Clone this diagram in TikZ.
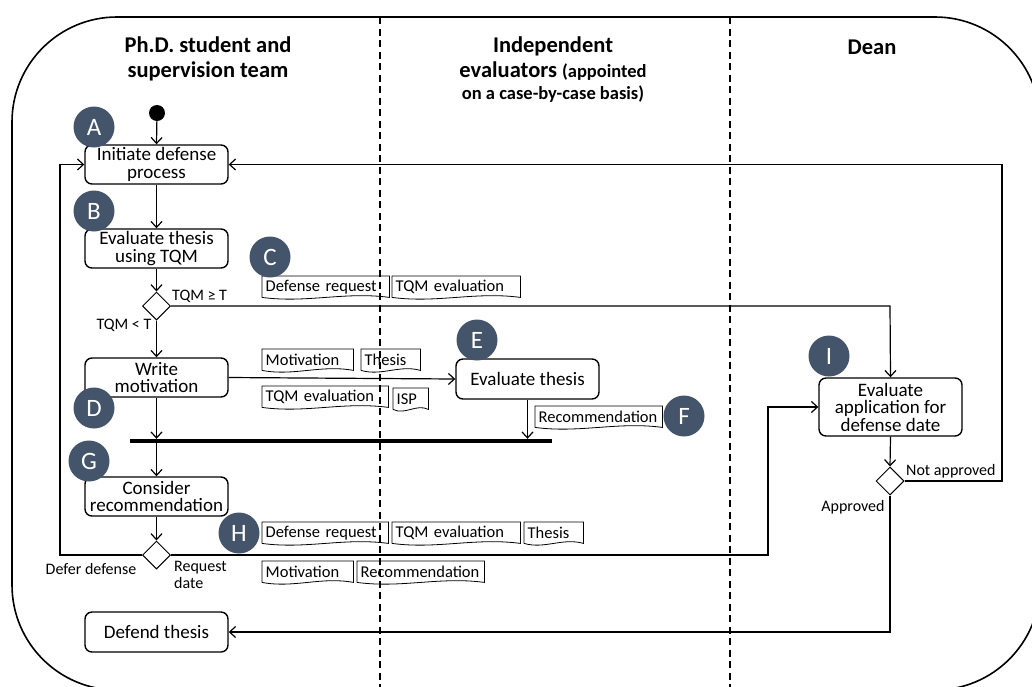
\documentclass[tikz,border=0pt]{standalone}
\usepackage{fontspec}
\setmainfont{Carlito}
\usetikzlibrary{shapes.geometric,calc,arrows.meta}
\definecolor{badgecol}{HTML}{44546A}
\newcommand\docoutline[1]{%
  \draw[docline] (#1.south west) -- (#1.north west) -- (#1.north east) -- (#1.south east)
    .. controls ($(#1.south east)!0.35!(#1.south west)+(0,-6)$) and ($(#1.south east)!0.65!(#1.south west)+(0,6)$) .. (#1.south west);
  \draw[line width=1.1pt] ($(#1.north east)+(0.5,0)$) -- ($(#1.south east)+(0.5,0)$);}
\tikzset{
  act/.style={draw, rounded corners=7pt, line width=1.4pt, minimum width=143pt, minimum height=39pt,
    align=center, inner sep=0pt, font=\fontsize{19}{17.5}\selectfont, fill=white},
  dec/.style={draw, diamond, aspect=1, minimum width=28pt, minimum height=28pt, inner sep=0pt, line width=1pt, fill=white},
  arr/.style={line width=1.2pt, -{Straight Barb[length=6pt,width=11pt,line width=1.2pt]}},
  docline/.style={line width=0.8pt},
  doctext/.style={anchor=north west, inner xsep=3.5pt, inner ysep=0pt, minimum height=21pt, align=left,
    font=\fontsize{16.5}{17}\selectfont},
  badge/.style={circle, fill=badgecol, text=white, minimum size=41pt, inner sep=0pt, font=\fontsize{25}{25}\selectfont},
  lbl/.style={font=\fontsize{16}{17}\selectfont, inner sep=0pt},
  lane/.style={line width=2.2pt, dash pattern=on 7pt off 4.5pt},
  head/.style={font=\fontsize{22.5}{25}\selectfont\bfseries, align=center, inner sep=0pt}
}
\begin{document}
\begin{tikzpicture}[x=1pt,y=-1pt]
\useasboundingbox (0,0) rectangle (1032,686);
\clip (0,0) rectangle (1032,686);
% frame and lanes
\draw[line width=1.6pt, rounded corners=105pt] (12,17) rectangle (1040,690);
\draw[lane] (380,17) -- (380,690);
\draw[lane] (730,17) -- (730,690);
% headers
\node[head] (h1) at (208,59) {Ph.D. student and\\supervision team};
\node[head] (h2) at (553,46) {Independent};
\node[head] (h3) at (553,71) {evaluators {\fontsize{18.5}{20}\selectfont(appointed}};
\node[head, font=\fontsize{18.5}{20}\selectfont\bfseries] (h4) at (553,94) {on a case-by-case basis)};
\node[head] (h5) at (872,47) {Dean};
% start
\node[circle, fill=black, minimum size=16pt, inner sep=0pt] (start) at (157,113) {};
% activities
\node[act] (A) at (156.5,164.5) {Initiate defense\\process};
\node[act] (B) at (156.5,248.5) {Evaluate thesis\\using TQM};
\node[dec] (d1) at (156.5,306) {};
\node[act] (D) at (156.5,377.5) {Write\\motivation};
\node[act, minimum height=40pt] (E) at (527.5,379) {Evaluate thesis};
\node[fill=black, minimum width=422pt, minimum height=4pt, inner sep=0pt] (bar) at (341,441) {};
\node[act] (G) at (156.5,496.5) {Consider\\recommendation};
\node[dec] (d2) at (156.5,555) {};
\node[act, minimum height=40pt] (F) at (156.5,632) {Defend thesis};
\node[act, minimum height=58pt] (I) at (890.5,407) {Evaluate\\application for\\defense date};
\node[dec] (d3) at (890,481) {};
% waypoints
\coordinate (w1) at (60,555);
\coordinate (w2) at (768,555);
\coordinate (w3) at (768,407);
\coordinate (w4) at (1002,481);
\coordinate (w5) at (1002,164.5);
\coordinate (w6) at (890,632);
\coordinate (w7) at (890,306);
% connectors
\draw[arr] (start) -- (A.north);
\draw[arr] (A.south) -- (B.north);
\draw[arr] (B.south) -- (d1.north);
\draw[arr] (d1.east) -- (w7) -- (I.north);
\draw[arr] (d1.south) -- (D.north);
\draw[arr] (D.east) -- (E.west);
\draw[arr] (E.south) -- (E.south |- bar.north);
\draw[arr] (D.south) -- (D.south |- bar.north);
\draw[arr] (G.north |- bar.south) -- (G.north);
\draw[arr] (G.south) -- (d2.north);
\draw[arr] (d2.west) -- (w1) |- (A.west);
\draw[arr] (d2.east) -- (w2) -- (w3) -- (I.west);
\draw[arr] (I.south) -- (d3.north);
\draw[arr] (d3.east) -- (w4) -- (w5) -- (A.east);
\draw[arr] (d3.south) -- (w6) -- (F.east);
% guard labels
\node[lbl, anchor=west] (g1) at (172,296) {TQM ≥ T};
\node[lbl] (g2) at (124,325) {TQM < T};
\node[lbl, anchor=west] (g3) at (906,471) {Not approved};
\node[lbl] (g4) at (853,507) {Approved};
\node[lbl] (g5) at (91,569) {Defer defense};
\node[lbl, anchor=north west, align=left, font=\fontsize{16}{17}\selectfont] (g6) at (174,561) {Request\\date};
% documents
\node[doctext, text width=120pt] (c1) at (262,276) {Defense request};
\node[doctext, text width=121pt] (c2) at (392,276) {TQM evaluation};
\node[doctext, text width=84pt] (m1) at (262,349) {Motivation};
\node[doctext, text width=52pt] (m2) at (361,349) {Thesis};
\node[doctext, text width=119pt] (m3) at (262,386) {TQM evaluation};
\node[doctext, text width=28pt] (m4) at (393,388) {ISP};
\node[doctext, text width=120pt] (r1) at (535,406) {Recommendation};
\node[doctext, text width=119pt] (k1) at (262,522) {Defense request};
\node[doctext, text width=121pt] (k2) at (392,522) {TQM evaluation};
\node[doctext, text width=52pt] (k3) at (524,522) {Thesis};
\node[doctext, text width=84pt] (k4) at (262,561) {Motivation};
\node[doctext, text width=120pt] (k5) at (357,561) {Recommendation};
\foreach \d in {c1,c2,m1,m2,m3,m4,r1,k1,k2,k3,k4,k5} {\docoutline{\d}}
% badges
\node[badge] (bA) at (94,127) {A};
\node[badge] (bB) at (94,211) {B};
\node[badge] (bC) at (270,257) {C};
\node[badge] (bD) at (94,408) {D};
\node[badge] (bE) at (477,340) {E};
\node[badge] (bF) at (684,416) {F};
\node[badge] (bG) at (89,461) {G};
\node[badge] (bH) at (239,533) {H};
\node[badge] (bI) at (829,356) {I};
\end{tikzpicture}
\end{document}
